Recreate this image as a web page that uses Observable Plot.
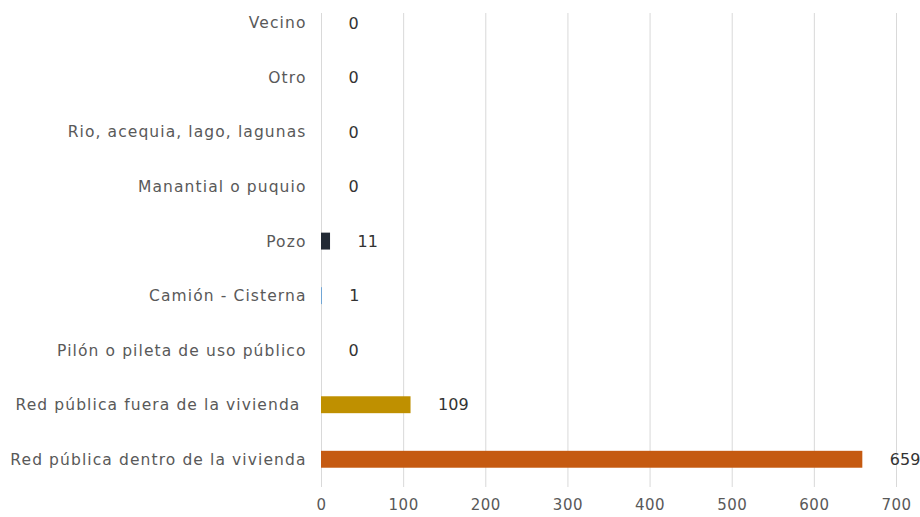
<!DOCTYPE html>
<html>
<head>
<meta charset="utf-8">
<script src="https://cdn.jsdelivr.net/npm/d3@7"></script>
<script src="https://cdn.jsdelivr.net/npm/@observablehq/plot@0.6"></script>
<style>
  body { margin: 0; background: #fff; }
  #chart svg { font-family: "DejaVu Sans", sans-serif; }
  #chart svg g[aria-label="y-axis tick label"] text { letter-spacing: 1.1px; }
  #chart svg g[aria-label="x-axis tick label"] text { letter-spacing: 0.5px; }
</style>
</head>
<body>
<div id="chart"></div>
<script>
const categories = [
  "Vecino",
  "Otro",
  "Rio, acequia, lago, lagunas",
  "Manantial o puquio",
  "Pozo",
  "Camión - Cisterna",
  "Pilón o pileta de uso público",
  "Red pública fuera de la vivienda\u00a0",
  "Red pública dentro de la vivienda"
];
const values = [0, 0, 0, 0, 11, 1, 0, 109, 659];
const barColors = ["#A5A5A5", "#7F7F7F", "#4472C4", "#70AD47", "#222A35", "#5B9BD5", "#FFC000", "#BF9000", "#C55A11"];
const xTicks = [0, 100, 200, 300, 400, 500, 600, 700];

const data = categories.map((c, i) => ({category: c, value: values[i]}));

const chart = Plot.plot({
  width: 920,
  height: 517,
  marginLeft: 321,
  marginRight: 24,
  marginTop: 13,
  marginBottom: 30,
  style: {fontFamily: "DejaVu Sans, sans-serif", fontSize: "15px", color: "#595959", background: "#fff"},
  x: {domain: [0, 700], ticks: xTicks, label: null},
  y: {domain: categories, label: null, padding: 0.69, paddingOuter: 0.19, align: 0.07, round: false},
  color: {domain: categories, range: barColors},
  marks: [
    Plot.ruleX(xTicks, {stroke: "#d9d9d9", strokeWidth: 1}),
    Plot.axisX({ticks: xTicks, tickSize: 0, tickPadding: 12, fill: "#595959", fontSize: 15, label: null}),
    Plot.axisY({tickSize: 0, tickPadding: 15, fill: "#595959", fontSize: 15.5, label: null}),
    Plot.barX(data, {x: "value", y: "category", fill: "category"}),
    Plot.text(data, {x: "value", y: "category", text: d => String(d.value), textAnchor: "start", dx: 27, fill: "#333333", fontSize: 16})
  ]
});
document.getElementById("chart").appendChild(chart);
</script>
</body>
</html>
